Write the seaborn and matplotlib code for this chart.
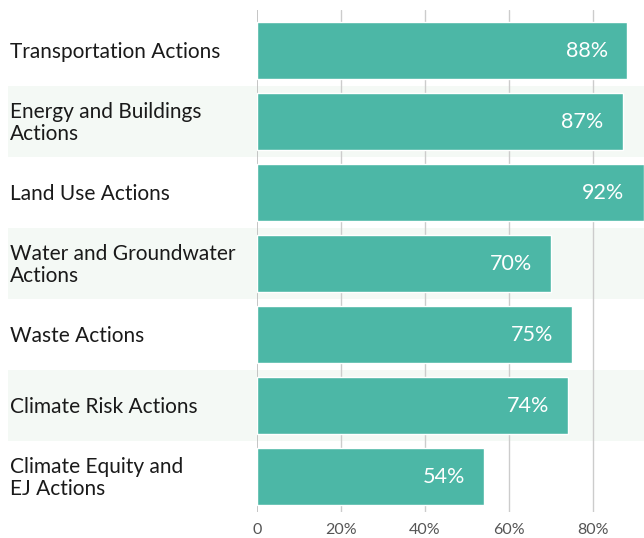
import pandas as pd
import matplotlib.pyplot as plt
import seaborn as sns
from matplotlib.patches import Rectangle
from matplotlib.transforms import blended_transform_factory

categories = ['Transportation Actions', 'Energy and Buildings\nActions', 'Land Use Actions',
              'Water and Groundwater\nActions', 'Waste Actions', 'Climate Risk Actions',
              'Climate Equity and\nEJ Actions']
values = [88, 87, 92, 70, 75, 74, 54]
tick_vals = [0, 20, 40, 60, 80]
tick_labels = ['0', '20%', '40%', '60%', '80%']

df = pd.DataFrame({'category': categories, 'value': values})

sns.set_style('white')
plt.rcParams['font.family'] = ['Lato', 'DejaVu Sans']

fig = plt.figure(figsize=(6.44, 5.38), dpi=100)
ax = fig.add_axes([257/644, 1 - 512/538, 1 - 257/644, 502/538])

# striped background rows
trans = blended_transform_factory(fig.transFigure, ax.transData)
for i in range(len(categories)):
    if i % 2 == 1:
        ax.add_patch(Rectangle((8/644, i - 0.5), 1, 1, transform=trans,
                               facecolor='#f4f9f5', edgecolor='none', zorder=0, clip_on=False))

sns.barplot(data=df, y='category', x='value', orient='h', color='#4cb7a6',
            saturation=1, width=0.79, ax=ax, zorder=3)

ax.set_xlim(0, 92.1)
ax.set_ylim(6.5, -0.57)
for sp in ax.spines.values():
    sp.set_visible(False)
ax.set_xticks(tick_vals)
ax.set_xticklabels(tick_labels, color='#555555', fontsize=11.5)
ax.tick_params(axis='x', length=0, pad=8)
ax.set_yticks([])
ax.set_xlabel('')
ax.set_ylabel('')
for t in tick_vals:
    ax.axvline(t, color='#bbbbbb' if t == 0 else '#cccccc', lw=1.2 if t == 0 else 1, zorder=1)

# category labels
for i, cat in enumerate(categories):
    ax.annotate(cat, (10/644, i), xycoords=trans, xytext=(0, -1.5), textcoords='offset pixels',
                ha='left', va='center', fontsize=15, color='#1a1a1a', linespacing=1.17)

# value labels
for i, v in enumerate(values):
    ax.annotate(f'{v}%', (v, i), xytext=(-19, -1), textcoords='offset pixels',
                ha='right', va='center', color='white', fontsize=15.5, zorder=4)

fig.savefig('out.png', dpi=100)
